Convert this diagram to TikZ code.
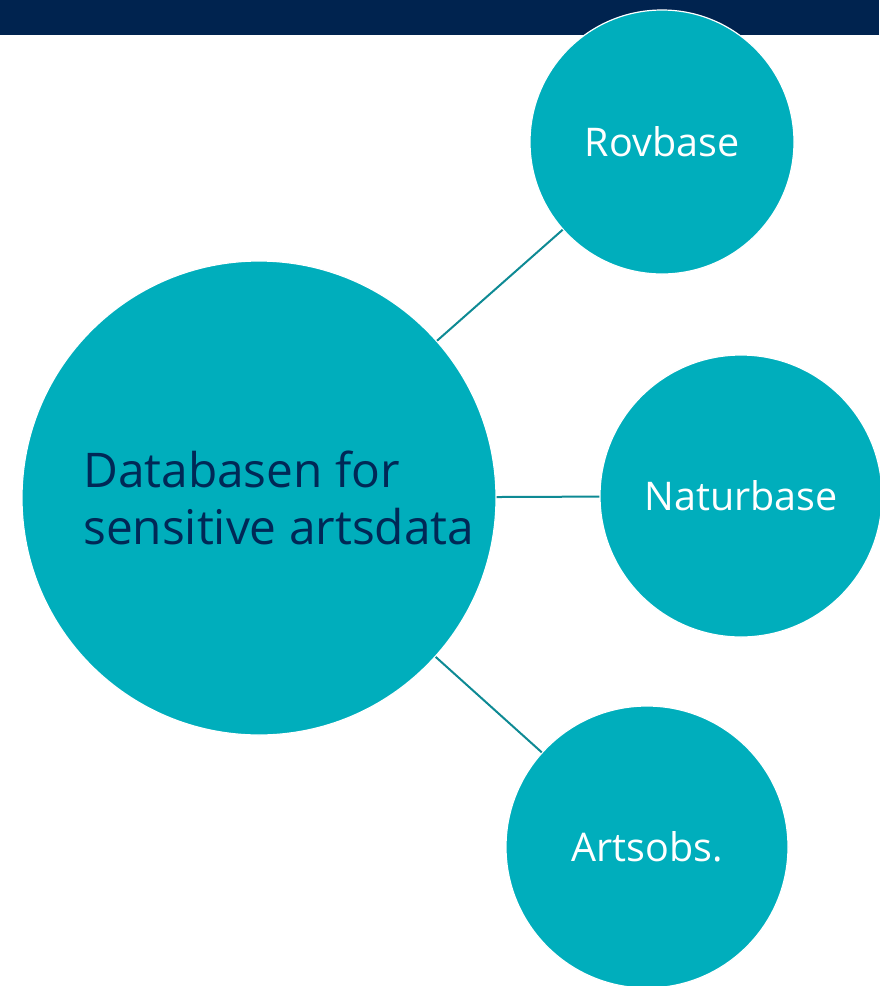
\documentclass[tikz,border=0pt]{standalone}
\usepackage{fontspec}
\setmainfont{Open Sans}
\definecolor{barnavy}{HTML}{00234F}
\definecolor{bubblecol}{HTML}{00AEBC}
\definecolor{linkcol}{HTML}{0E8A94}
\definecolor{textnavy}{HTML}{002856}
\begin{document}
\begin{tikzpicture}[x=1pt,y=-1pt,
    bubble/.style={circle,fill=bubblecol,draw=white,line width=1.2pt,inner sep=0pt,
      text=white,font=\fontsize{39.5}{47}\selectfont},
    link/.style={draw=linkcol,line width=2pt}]
    \useasboundingbox (0,0) rectangle (879,986);
    \fill[barnavy] (0,0) rectangle (879,35);

    \node[bubble,minimum size=474pt] (db) at (259,498) {};
    \node[anchor=west,align=left,text=textnavy,font=\fontsize{47.8}{57}\selectfont,inner sep=0pt] (dbtext) at (83,498) {Databasen for\\sensitive artsdata};

    \node[bubble,minimum size=264pt] (rov) at (662,142) {Rovbase};
    \node[bubble,minimum size=282pt] (nat) at (741,496) {Naturbase};
    \node[bubble,minimum size=282pt] (arts) at (647,847) {Artsobs.};

    \draw[link] (db) -- (rov);
    \draw[link] (db) -- (nat);
    \draw[link] (db) -- (arts);
\end{tikzpicture}
\end{document}
